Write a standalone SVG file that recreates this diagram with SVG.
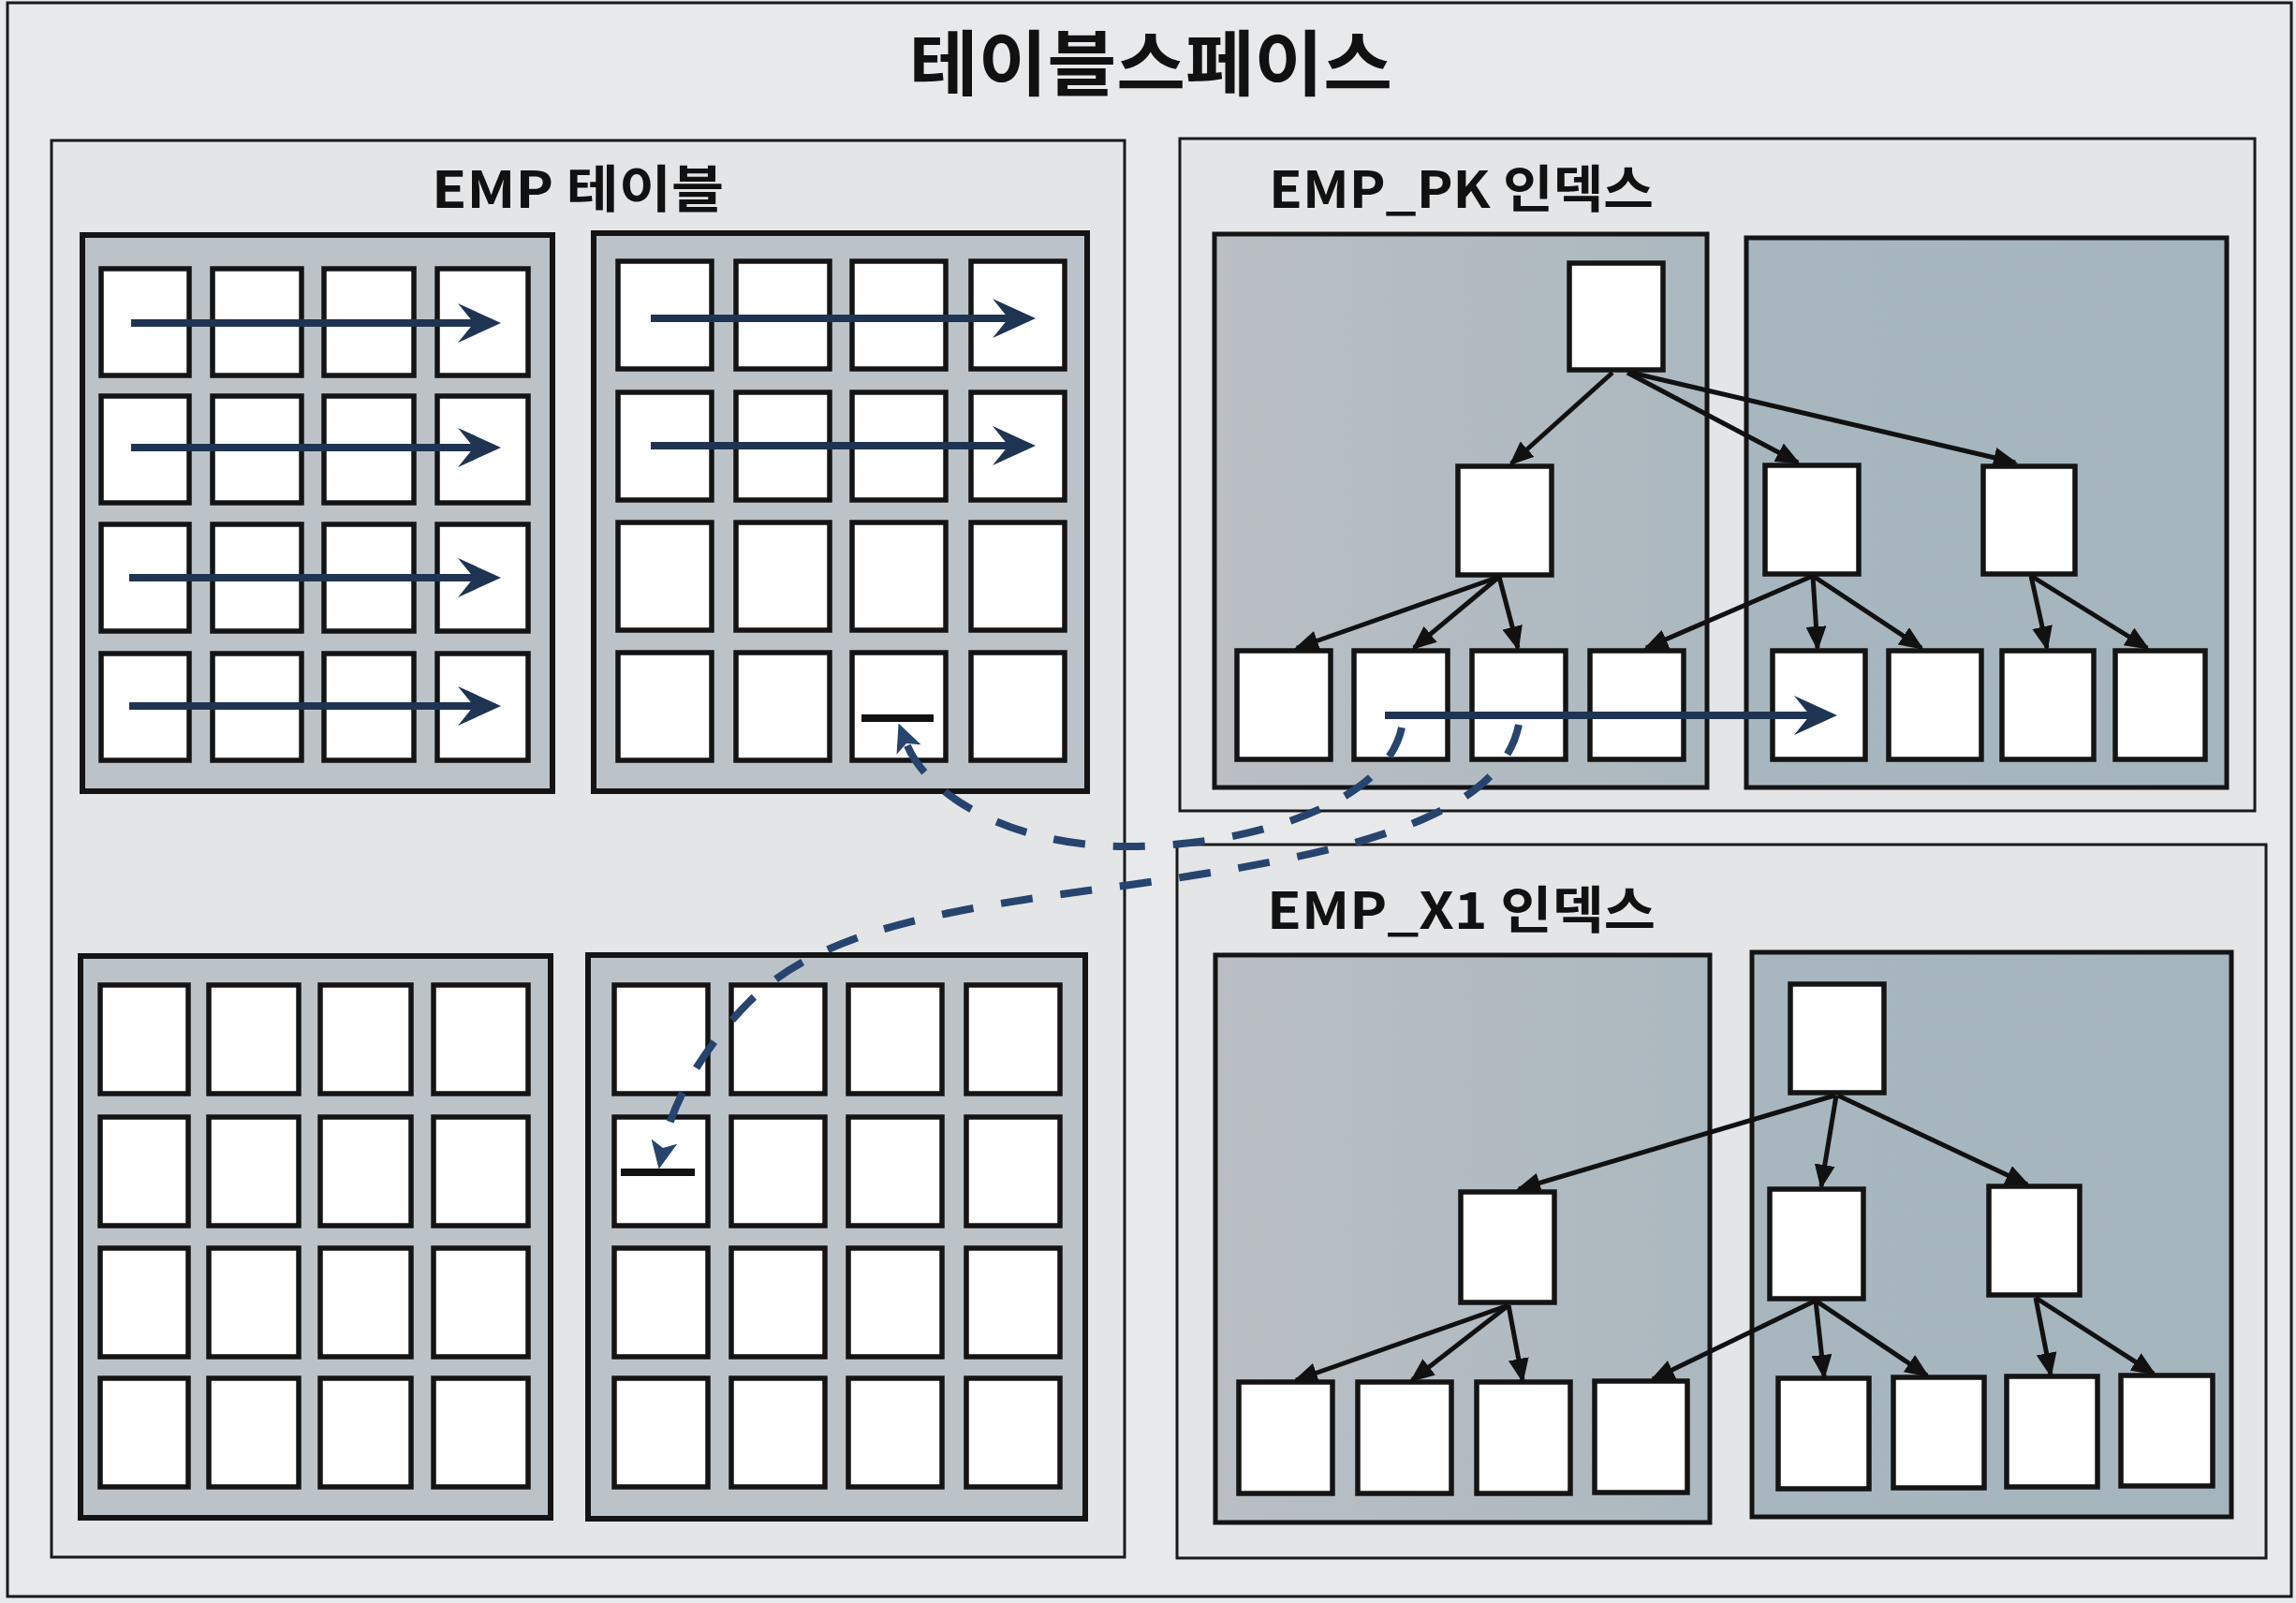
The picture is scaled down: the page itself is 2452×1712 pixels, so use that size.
<svg xmlns="http://www.w3.org/2000/svg" width="2452" height="1712" viewBox="0 0 2452 1712">
<defs>
<style>
.bg{fill:#e8e9eb}
.frame{fill:none;stroke:#1a1a1a;stroke-width:3}
.panel{fill:#e3e5e7;stroke:#1a1a1a;stroke-width:3}
.tblock{fill:#bcc3c8;stroke:#141414;stroke-width:6}
.cell{fill:#ffffff;stroke:#141414;stroke-width:5.5}
.ibl{fill:url(#gradL);stroke:#141414;stroke-width:5}
.ibr{fill:url(#gradR);stroke:#141414;stroke-width:5}
.label{font-family:"Noto Sans CJK KR","Noto Sans",sans-serif;font-weight:700;fill:#111111}
.scan{stroke:#1f3452;stroke-width:8;fill:none;marker-end:url(#scanhead)}
.tree{stroke:#111111;stroke-width:5;fill:none;marker-end:url(#treehead)}
.rowid{stroke:#27446e;stroke-width:8;fill:none;stroke-dasharray:34 30;marker-end:url(#dashhead)}
.bar{stroke:#111111;stroke-width:8}
</style>
<linearGradient id="gradL" x1="0" y1="0" x2="1" y2="0">
<stop offset="0" stop-color="#b9bfc4"/>
<stop offset="1" stop-color="#acb8bf"/>
</linearGradient>
<linearGradient id="gradR" x1="0" y1="0" x2="1" y2="0">
<stop offset="0" stop-color="#a8b7bf"/>
<stop offset="1" stop-color="#a5b5bd"/>
</linearGradient>
<marker id="scanhead" markerUnits="userSpaceOnUse" viewBox="0 0 46 42" markerWidth="46" markerHeight="42" refX="17" refY="21" orient="auto">
<path d="M0,0 L46,21 L0,42 L17,21 Z" fill="#1f3452"/>
</marker>
<marker id="treehead" markerUnits="userSpaceOnUse" viewBox="0 0 26 22" markerWidth="26" markerHeight="22" refX="23" refY="11" orient="auto">
<path d="M0,0 L26,11 L0,22 Z" fill="#111111"/>
</marker>
<marker id="dashhead" markerUnits="userSpaceOnUse" viewBox="0 0 30 28" markerWidth="30" markerHeight="28" refX="7" refY="14" orient="auto">
<path d="M0,0 L30,14 L0,28 L7,14 Z" fill="#27446e"/>
</marker>
</defs>

<rect class="bg" x="0" y="0" width="2452" height="1712"/>
<rect class="frame" x="8" y="3" width="2439" height="1702"/>

<g id="title">
<text class="label" x="1229" y="96" font-size="76" text-anchor="middle" textLength="516" lengthAdjust="spacingAndGlyphs">테이블스페이스</text>
</g>

<!-- EMP table panel -->
<g id="panel-emp-table">
<rect class="panel" x="55" y="150" width="1146" height="1513"/>
<text class="label" x="461" y="222" font-size="54" textLength="312" lengthAdjust="spacingAndGlyphs">EMP 테이블</text>
</g>

<g id="table-block-1">
<rect class="tblock" x="88" y="251" width="502" height="594"/>
<rect class="cell" x="108" y="287" width="94" height="114"/>
<rect class="cell" x="227" y="287" width="95" height="114"/>
<rect class="cell" x="346" y="287" width="96" height="114"/>
<rect class="cell" x="467" y="287" width="97" height="114"/>
<rect class="cell" x="108" y="423" width="94" height="114"/>
<rect class="cell" x="227" y="423" width="95" height="114"/>
<rect class="cell" x="346" y="423" width="96" height="114"/>
<rect class="cell" x="467" y="423" width="97" height="114"/>
<rect class="cell" x="108" y="560" width="94" height="114"/>
<rect class="cell" x="227" y="560" width="95" height="114"/>
<rect class="cell" x="346" y="560" width="96" height="114"/>
<rect class="cell" x="467" y="560" width="97" height="114"/>
<rect class="cell" x="108" y="698" width="94" height="114"/>
<rect class="cell" x="227" y="698" width="95" height="114"/>
<rect class="cell" x="346" y="698" width="96" height="114"/>
<rect class="cell" x="467" y="698" width="97" height="114"/>
</g>

<g id="table-block-2">
<rect class="tblock" x="634" y="249" width="527" height="596"/>
<rect class="cell" x="660" y="279" width="100" height="115"/>
<rect class="cell" x="786" y="279" width="100" height="115"/>
<rect class="cell" x="910" y="279" width="100" height="115"/>
<rect class="cell" x="1037" y="279" width="100" height="115"/>
<rect class="cell" x="660" y="419" width="100" height="115"/>
<rect class="cell" x="786" y="419" width="100" height="115"/>
<rect class="cell" x="910" y="419" width="100" height="115"/>
<rect class="cell" x="1037" y="419" width="100" height="115"/>
<rect class="cell" x="660" y="558" width="100" height="115"/>
<rect class="cell" x="786" y="558" width="100" height="115"/>
<rect class="cell" x="910" y="558" width="100" height="115"/>
<rect class="cell" x="1037" y="558" width="100" height="115"/>
<rect class="cell" x="660" y="697" width="100" height="115"/>
<rect class="cell" x="786" y="697" width="100" height="115"/>
<rect class="cell" x="910" y="697" width="100" height="115"/>
<rect class="cell" x="1037" y="697" width="100" height="115"/>
<line class="bar" x1="920" y1="767" x2="997" y2="767"/>
</g>

<g id="table-block-3">
<rect class="tblock" x="86" y="1021" width="502" height="600"/>
<rect class="cell" x="107" y="1052" width="94" height="116"/>
<rect class="cell" x="223" y="1052" width="96" height="116"/>
<rect class="cell" x="342" y="1052" width="97" height="116"/>
<rect class="cell" x="463" y="1052" width="101" height="116"/>
<rect class="cell" x="107" y="1193" width="94" height="116"/>
<rect class="cell" x="223" y="1193" width="96" height="116"/>
<rect class="cell" x="342" y="1193" width="97" height="116"/>
<rect class="cell" x="463" y="1193" width="101" height="116"/>
<rect class="cell" x="107" y="1333" width="94" height="116"/>
<rect class="cell" x="223" y="1333" width="96" height="116"/>
<rect class="cell" x="342" y="1333" width="97" height="116"/>
<rect class="cell" x="463" y="1333" width="101" height="116"/>
<rect class="cell" x="107" y="1472" width="94" height="116"/>
<rect class="cell" x="223" y="1472" width="96" height="116"/>
<rect class="cell" x="342" y="1472" width="97" height="116"/>
<rect class="cell" x="463" y="1472" width="101" height="116"/>
</g>

<g id="table-block-4">
<rect class="tblock" x="628" y="1020" width="531" height="602"/>
<rect class="cell" x="656" y="1052" width="100" height="116"/>
<rect class="cell" x="781" y="1052" width="100" height="116"/>
<rect class="cell" x="906" y="1052" width="100" height="116"/>
<rect class="cell" x="1032" y="1052" width="100" height="116"/>
<rect class="cell" x="656" y="1193" width="100" height="116"/>
<rect class="cell" x="781" y="1193" width="100" height="116"/>
<rect class="cell" x="906" y="1193" width="100" height="116"/>
<rect class="cell" x="1032" y="1193" width="100" height="116"/>
<rect class="cell" x="656" y="1333" width="100" height="116"/>
<rect class="cell" x="781" y="1333" width="100" height="116"/>
<rect class="cell" x="906" y="1333" width="100" height="116"/>
<rect class="cell" x="1032" y="1333" width="100" height="116"/>
<rect class="cell" x="656" y="1472" width="100" height="116"/>
<rect class="cell" x="781" y="1472" width="100" height="116"/>
<rect class="cell" x="906" y="1472" width="100" height="116"/>
<rect class="cell" x="1032" y="1472" width="100" height="116"/>
<line class="bar" x1="663" y1="1252" x2="742" y2="1252"/>
</g>

<!-- EMP_PK index panel -->
<g id="panel-emp-pk">
<rect class="panel" x="1260" y="148" width="1148" height="718"/>
<text class="label" x="1355" y="222" font-size="54" textLength="411" lengthAdjust="spacingAndGlyphs">EMP_PK 인덱스</text>
<rect class="ibl" x="1297" y="250" width="526" height="591"/>
<rect class="ibr" x="1865" y="254" width="513" height="587"/>
</g>
<g id="pk-root"><rect class="cell" x="1676" y="281" width="100" height="114"/></g>
<g id="pk-branch-1"><rect class="cell" x="1557" y="498" width="100" height="116"/></g>
<g id="pk-branch-2"><rect class="cell" x="1885" y="497" width="100" height="116"/></g>
<g id="pk-branch-3"><rect class="cell" x="2118" y="498" width="98" height="115"/></g>
<g id="pk-leaf-1"><rect class="cell" x="1321" y="695" width="100" height="116"/></g>
<g id="pk-leaf-2"><rect class="cell" x="1446" y="695" width="100" height="116"/></g>
<g id="pk-leaf-3"><rect class="cell" x="1572" y="695" width="100" height="116"/></g>
<g id="pk-leaf-4"><rect class="cell" x="1698" y="695" width="100" height="116"/></g>
<g id="pk-leaf-5"><rect class="cell" x="1893" y="695" width="99" height="116"/></g>
<g id="pk-leaf-6"><rect class="cell" x="2017" y="695" width="99" height="116"/></g>
<g id="pk-leaf-7"><rect class="cell" x="2138" y="695" width="98" height="116"/></g>
<g id="pk-leaf-8"><rect class="cell" x="2259" y="695" width="96" height="116"/></g>

<!-- EMP_X1 index panel -->
<g id="panel-emp-x1">
<rect class="panel" x="1257" y="902" width="1163" height="762"/>
<text class="label" x="1353" y="992" font-size="54" textLength="415" lengthAdjust="spacingAndGlyphs">EMP_X1 인덱스</text>
<rect class="ibl" x="1298" y="1020" width="528" height="606"/>
<rect class="ibr" x="1871" y="1017" width="512" height="603"/>
</g>
<g id="x1-root"><rect class="cell" x="1912" y="1051" width="100" height="116"/></g>
<g id="x1-branch-1"><rect class="cell" x="1560" y="1273" width="100" height="118"/></g>
<g id="x1-branch-2"><rect class="cell" x="1890" y="1270" width="100" height="117"/></g>
<g id="x1-branch-3"><rect class="cell" x="2124" y="1267" width="97" height="116"/></g>
<g id="x1-leaf-1"><rect class="cell" x="1323" y="1476" width="100" height="119"/></g>
<g id="x1-leaf-2"><rect class="cell" x="1450" y="1476" width="100" height="119"/></g>
<g id="x1-leaf-3"><rect class="cell" x="1577" y="1476" width="100" height="119"/></g>
<g id="x1-leaf-4"><rect class="cell" x="1703" y="1475" width="99" height="119"/></g>
<g id="x1-leaf-5"><rect class="cell" x="1899" y="1472" width="97" height="118"/></g>
<g id="x1-leaf-6"><rect class="cell" x="2022" y="1471" width="97" height="118"/></g>
<g id="x1-leaf-7"><rect class="cell" x="2143" y="1470" width="97" height="118"/></g>
<g id="x1-leaf-8"><rect class="cell" x="2265" y="1469" width="98" height="118"/></g>

<g id="connectors">
<!-- full scan arrows -->
<line class="scan" x1="140" y1="345" x2="506" y2="345"/>
<line class="scan" x1="140" y1="478" x2="506" y2="478"/>
<line class="scan" x1="138" y1="617" x2="506" y2="617"/>
<line class="scan" x1="138" y1="754" x2="506" y2="754"/>
<line class="scan" x1="695" y1="340" x2="1077" y2="340"/>
<line class="scan" x1="695" y1="476" x2="1077" y2="476"/>
<!-- PK tree -->
<line class="tree" x1="1722" y1="398" x2="1614" y2="495"/>
<line class="tree" x1="1738" y1="398" x2="1920" y2="494"/>
<line class="tree" x1="1742" y1="398" x2="2152" y2="494"/>
<line class="tree" x1="1601" y1="616" x2="1385" y2="692"/>
<line class="tree" x1="1601" y1="616" x2="1510" y2="692"/>
<line class="tree" x1="1601" y1="616" x2="1621" y2="692"/>
<line class="tree" x1="1936" y1="615" x2="1758" y2="692"/>
<line class="tree" x1="1936" y1="615" x2="1941" y2="692"/>
<line class="tree" x1="1936" y1="615" x2="2052" y2="692"/>
<line class="tree" x1="2169" y1="615" x2="2186" y2="692"/>
<line class="tree" x1="2169" y1="615" x2="2293" y2="692"/>
<!-- PK leaf range scan -->
<line class="scan" x1="1479" y1="764" x2="1933" y2="764"/>
<!-- X1 tree -->
<line class="tree" x1="1959" y1="1170" x2="1622" y2="1270"/>
<line class="tree" x1="1961" y1="1170" x2="1945" y2="1267"/>
<line class="tree" x1="1963" y1="1170" x2="2165" y2="1265"/>
<line class="tree" x1="1611" y1="1394" x2="1384" y2="1474"/>
<line class="tree" x1="1611" y1="1394" x2="1508" y2="1474"/>
<line class="tree" x1="1611" y1="1394" x2="1626" y2="1474"/>
<line class="tree" x1="1939" y1="1389" x2="1765" y2="1473"/>
<line class="tree" x1="1939" y1="1389" x2="1948" y2="1470"/>
<line class="tree" x1="1939" y1="1389" x2="2058" y2="1469"/>
<line class="tree" x1="2174" y1="1386" x2="2190" y2="1468"/>
<line class="tree" x1="2174" y1="1386" x2="2300" y2="1467"/>
<!-- rowid lookups -->
<path class="rowid" d="M1497,777 C1480,860 1330,905 1200,904 C1080,903 990,850 968,794"/>
<path class="rowid" d="M1622,774 C1600,880 1420,915 1200,946 C1020,970 880,990 800,1070 C740,1130 715,1190 708,1226"/>
</g>
</svg>
